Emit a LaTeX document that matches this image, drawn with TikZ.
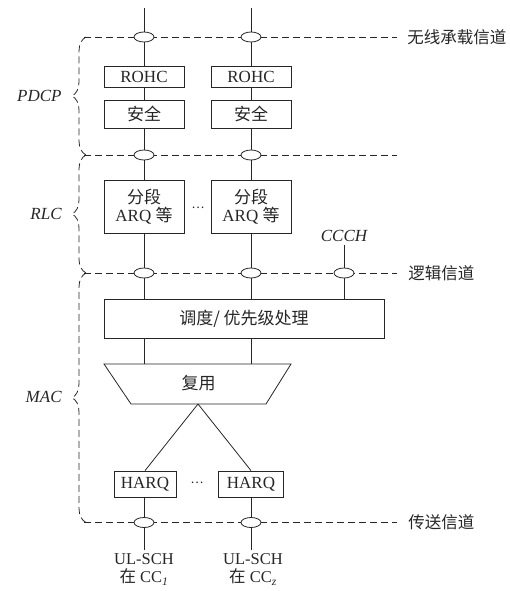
\documentclass[tikz,border=0pt]{standalone}
\usepackage{fontspec}
\setmainfont{Liberation Serif}
\newfontfamily\cjk{Noto Sans CJK SC}
\usetikzlibrary{shapes.geometric,decorations.pathreplacing}
\begin{document}
\begin{tikzpicture}[x=1pt,y=-1pt, line width=0.8pt, draw=black!85, text=black!85,
 box/.style={draw, minimum width=80pt, minimum height=21pt, inner sep=0pt, fill=white, font=\fontsize{17}{18}\selectfont},
 port/.style={draw, ellipse, minimum width=20pt, minimum height=10pt, inner sep=0pt, fill=white},
 chan/.style={dash pattern=on 7pt off 4pt},
 lbl/.style={font=\fontsize{16.5}{18}\selectfont\cjk, anchor=west, inner sep=0pt},
 lay/.style={font=\fontsize{17}{18}\selectfont\itshape, anchor=east, inner sep=0pt},
 brc/.style={decorate, decoration={brace, amplitude=14pt}, chan},
 dots/.style={font=\fontsize{12}{12}\selectfont\cjk, inner sep=0pt},
 bot/.style={anchor=north, align=center, inner sep=0pt, font=\fontsize{16.5}{18}\selectfont}
]
\path[use as bounding box] (0,0) rectangle (509,591);

% channel lines
\coordinate (d1l) at (84,37);  \coordinate (d1r) at (397,37);
\coordinate (d2l) at (84,155); \coordinate (d2r) at (397,155);
\coordinate (d3l) at (84,273); \coordinate (d3r) at (397,273);
\coordinate (d4l) at (84,522.5); \coordinate (d4r) at (397,522.5);
\draw[chan] (d1l) -- (d1r);
\draw[chan] (d2l) -- (d2r);
\draw[chan] (d3l) -- (d3r);
\draw[chan] (d4l) -- (d4r);
\node[lbl] (ch1) at (407,37) {无线承载信道};
\node[lbl] (ch3) at (408,273) {逻辑信道};
\node[lbl] (ch4) at (408,522.5) {传送信道};

% braces
\coordinate (bA) at (86,37); \coordinate (bB) at (86,155);
\coordinate (bC) at (86,273); \coordinate (bD) at (86,522.5);
\draw[brc] (bB) -- (bA);
\draw[brc] (bC) -- (bB);
\draw[brc] (bD) -- (bC);
\node[lay] (pdcp) at (62,96) {PDCP};
\node[lay] (rlc) at (62,214) {RLC};
\node[lay] (mac) at (62,397) {MAC};

% column nodes
\coordinate (t1) at (144,8); \coordinate (t2) at (251,8);
\node[port] (p1a) at (144,37) {};
\node[port] (p2a) at (251,37) {};
\node[box] (rohc1) at (144,77) {ROHC};
\node[box] (rohc2) at (251,77) {ROHC};
\node[box, minimum height=28pt] (sec1) at (144,114) {\cjk 安全};
\node[box, minimum height=28pt] (sec2) at (251,114) {\cjk 安全};
\node[port] (p1b) at (144,155) {};
\node[port] (p2b) at (251,155) {};
\node[box, minimum height=53pt, align=center] (rlc1) at (144,206.5) {{\cjk 分段}\\ARQ {\cjk 等}};
\node[box, minimum height=53pt, align=center] (rlc2) at (251,206.5) {{\cjk 分段}\\ARQ {\cjk 等}};
\node[dots] (dt1) at (198,208) {…};
\node[font=\fontsize{17}{18}\selectfont\itshape, inner sep=3pt] (ccch) at (344,236) {CCCH};
\node[port] (p1c) at (144,273) {};
\node[port] (p2c) at (251,273) {};
\node[port] (p3c) at (344,273) {};
\node[box, minimum width=280pt, minimum height=39pt] (sched) at (244,318.5) {\cjk 调度/ 优先级处理};

% multiplexer
\coordinate (mTL) at (104,364); \coordinate (mTR) at (291,364);
\coordinate (mBR) at (266,404); \coordinate (mBL) at (131,404);
\coordinate (mapex) at (198,404);
\draw (mTL) -- (mTR) -- (mBR) -- (mBL) -- cycle;
\node[font=\fontsize{17}{18}\selectfont\cjk, inner sep=0pt] (mux) at (198.5,383) {复用};

\node[box, minimum width=62pt, minimum height=26pt] (h1) at (145,484) {HARQ};
\node[box, minimum width=65pt, minimum height=26pt] (h2) at (251,484) {HARQ};
\node[dots] (dt2) at (197,483) {…};
\node[port] (p1d) at (144,522.5) {};
\node[port] (p2d) at (251,522.5) {};
\coordinate (b1) at (144,550); \coordinate (b2) at (251,550);
\node[bot] (ul1) at (144,553.5) {UL-SCH\\{\cjk 在} CC\textsubscript{\itshape 1}};
\node[bot] (ul2) at (253,553.5) {UL-SCH\\{\cjk 在} CC\textsubscript{\itshape z}};

% connectors
\foreach \c in {1,2}{
  \draw (t\c) -- (p\c a.north);
  \draw (p\c a.south) -- (rohc\c.north);
  \draw (rohc\c.south) -- (sec\c.north);
  \draw (sec\c.south) -- (p\c b.north);
  \draw (p\c b.south) -- (rlc\c.north);
  \draw (rlc\c.south) -- (p\c c.north);
  \draw (p\c c.south) -- (sched.north -| p\c c);
  \draw (sched.south -| p\c c) -- (mTL -| p\c c);
  \draw (mapex) -- (h\c.north);
  \draw (h\c.south -| p\c d) -- (p\c d.north);
  \draw (p\c d.south) -- (b\c);
}
\draw (ccch.south) -- (p3c.north);
\draw (p3c.south) -- (sched.north -| p3c);
\end{tikzpicture}
\end{document}
